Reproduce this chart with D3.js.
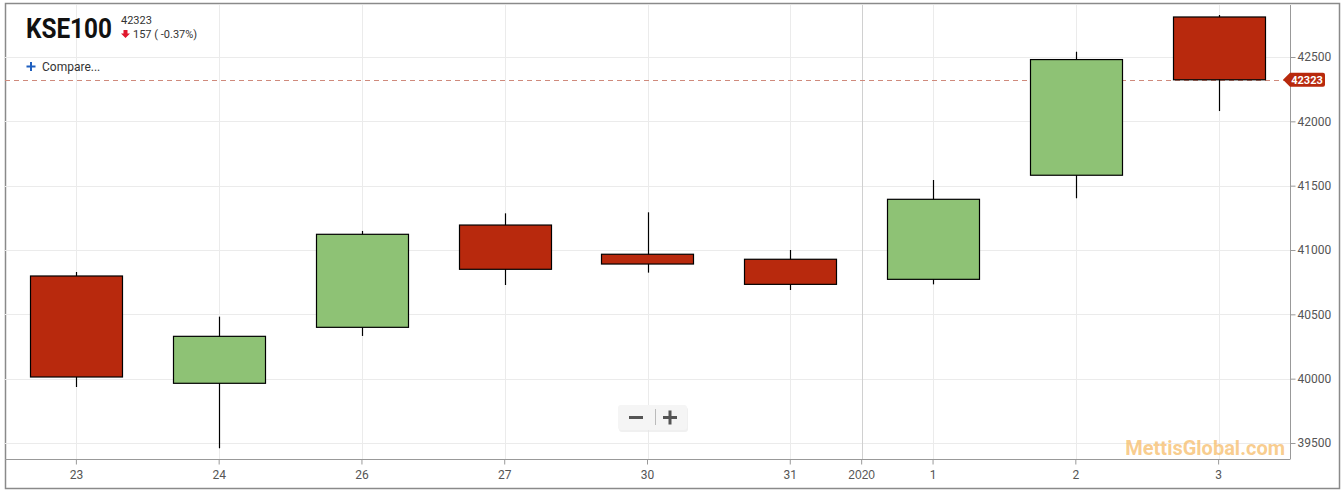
<!DOCTYPE html>
<html>
<head>
<meta charset="utf-8">
<script src="https://cdn.jsdelivr.net/npm/d3@7"></script>
<style>
  html, body { margin: 0; padding: 0; background: #fff; }
  svg { display: block; font-family: Roboto, "Noto Sans", Arial, sans-serif; }
</style>
</head>
<body>
<svg id="chart" width="1344" height="492"></svg>
<script>
// ---- Data ----
const categories = ["23", "24", "26", "27", "30", "31", "1", "2", "3"];
const opens  = [40798, 39964, 40399, 41194, 40967, 40928, 40772, 41581, 42811];
const highs  = [40829, 40482, 41148, 41285, 41293, 41000, 41544, 42541, 42826];
const lows   = [39935, 39459, 40332, 40728, 40824, 40689, 40733, 41402, 42080];
const closes = [40013, 40329, 41122, 40850, 40891, 40733, 41394, 42480, 42323];
const yTicks = [39500, 40000, 40500, 41000, 41500, 42000, 42500];
const yearLabel = "2020";
const yearAfter = "1";   // year separator sits between "31" and "1"
const symbol = "KSE100";
const lastPrice = 42323;
const change = -157;
const changePct = "-0.37%";

// ---- Layout ----
const svg = d3.select("#chart");
const plot = { left: 5, right: 1290, top: 5, bottom: 459 };

const x = d3.scaleBand()
  .domain(categories)
  .range([plot.left, plot.right])
  .paddingInner(0.355)
  .paddingOuter(0.355 / 2);

const y = d3.scaleLinear()
  .domain([39500, 42500])
  .range([443, 57]);

const cx = d => x(d) + x.bandwidth() / 2;
const idxYear = categories.indexOf(yearAfter);
const yearX = (cx(categories[idxYear - 1]) + cx(categories[idxYear])) / 2;

// outer frame
svg.append("rect")
  .attr("x", 5.5).attr("y", 3.5)
  .attr("width", 1334).attr("height", 485)
  .attr("fill", "none").attr("stroke", "#8a8a8a").attr("stroke-width", 1.5);

// grid
const grid = svg.append("g");
grid.selectAll("line.h").data(yTicks).join("line")
  .attr("x1", plot.left).attr("x2", plot.right)
  .attr("y1", d => Math.round(y(d)) + 0.5).attr("y2", d => Math.round(y(d)) + 0.5)
  .attr("stroke", "#ebebeb");
grid.selectAll("line.v").data(categories).join("line")
  .attr("x1", d => Math.round(cx(d)) + 0.5).attr("x2", d => Math.round(cx(d)) + 0.5)
  .attr("y1", plot.top).attr("y2", plot.bottom)
  .attr("stroke", "#ebebeb");
grid.append("line")
  .attr("x1", Math.round(yearX) + 0.5).attr("x2", Math.round(yearX) + 0.5)
  .attr("y1", plot.top).attr("y2", plot.bottom)
  .attr("stroke", "#d0d0d0");

// watermark
svg.append("text")
  .attr("x", 1285).attr("y", 455)
  .attr("text-anchor", "end")
  .attr("font-size", 20).attr("font-weight", 700)
  .attr("fill", "#f7c070").attr("fill-opacity", 0.8)
  .text("MettisGlobal.com");

// last price dashed line
svg.append("line")
  .attr("x1", plot.left).attr("x2", plot.right)
  .attr("y1", Math.round(y(lastPrice)) + 0.5).attr("y2", Math.round(y(lastPrice)) + 0.5)
  .attr("stroke", "#cf8a7c").attr("stroke-width", 1)
  .attr("stroke-dasharray", "5,4");

// candles
const data = categories.map((c, i) => ({ c, o: opens[i], h: highs[i], l: lows[i], cl: closes[i] }));
const candles = svg.append("g").selectAll("g").data(data).join("g");
candles.append("line")
  .attr("x1", d => Math.round(cx(d.c)) + 0.5).attr("x2", d => Math.round(cx(d.c)) + 0.5)
  .attr("y1", d => y(d.h)).attr("y2", d => y(d.l))
  .attr("stroke", "#000").attr("stroke-width", 1.2);
candles.append("rect")
  .attr("x", d => Math.round(x(d.c)) + 0.5)
  .attr("width", Math.round(x.bandwidth()))
  .attr("y", d => y(Math.max(d.o, d.cl)))
  .attr("height", d => Math.max(1, Math.abs(y(d.o) - y(d.cl))))
  .attr("fill", d => d.cl >= d.o ? "#8ec275" : "#b8290d")
  .attr("stroke", "#000").attr("stroke-width", 1.2);

// y axis
const yAxis = d3.axisRight(y).tickValues(yTicks).tickSize(5).tickPadding(2).tickFormat(d3.format("d"));
const gy = svg.append("g").attr("transform", `translate(${plot.right + 0.5},0)`).call(yAxis);
gy.select(".domain").remove();
gy.selectAll(".tick line").attr("stroke", "#999");
gy.selectAll("text").attr("fill", "#555").attr("font-size", 12).attr("font-family", "Roboto, Arial, sans-serif");
svg.append("line")
  .attr("x1", plot.right + 0.5).attr("x2", plot.right + 0.5)
  .attr("y1", plot.top).attr("y2", plot.bottom)
  .attr("stroke", "#999");

// x axis
const xAxis = d3.axisBottom(x).tickSize(5).tickPadding(6);
const gx = svg.append("g").attr("transform", `translate(0,${plot.bottom + 0.5})`).call(xAxis);
gx.select(".domain").remove();
gx.selectAll(".tick line").attr("stroke", "#999");
gx.selectAll("text").attr("fill", "#555").attr("font-size", 12).attr("font-family", "Roboto, Arial, sans-serif");
const yearTick = gx.append("g").attr("transform", `translate(${yearX},0)`);
yearTick.append("line").attr("y2", 5).attr("stroke", "#999");
yearTick.append("text").attr("y", 11).attr("dy", "0.71em").attr("text-anchor", "middle")
  .attr("fill", "#555").attr("font-size", 12).text(yearLabel);
svg.append("line")
  .attr("x1", plot.left).attr("x2", plot.right + 0.5)
  .attr("y1", plot.bottom + 0.5).attr("y2", plot.bottom + 0.5)
  .attr("stroke", "#999");

// last price label
const ly = y(lastPrice);
svg.append("path")
  .attr("d", `M1283,${ly} L1290,${ly - 7} L1323,${ly - 7} Q1325,${ly - 7} 1325,${ly - 5} L1325,${ly + 5} Q1325,${ly + 7} 1323,${ly + 7} L1290,${ly + 7} Z`)
  .attr("fill", "#b8290d");
svg.append("text")
  .attr("x", 1307).attr("y", ly + 4)
  .attr("text-anchor", "middle")
  .attr("font-size", 11).attr("font-weight", 700).attr("fill", "#fff")
  .text(d3.format("d")(lastPrice));

// header (title condensed horizontally to fit 86px)
const title = svg.append("text")
  .attr("x", 0).attr("y", 0)
  .attr("font-size", 28).attr("font-weight", 700).attr("fill", "#111")
  .text(symbol);
const natW = title.node().getComputedTextLength() || 98;
title.attr("transform", `translate(26,38) scale(${86 / natW},1)`);

svg.append("text")
  .attr("x", 121).attr("y", 24)
  .attr("font-size", 11).attr("fill", "#333")
  .text(d3.format("d")(lastPrice));
svg.append("path")
  .attr("d", "M123.5,30 L127.5,30 L127.5,33.5 L130,33.5 L125.5,38 L121,33.5 L123.5,33.5 Z")
  .attr("fill", "#e0182d");
svg.append("text")
  .attr("x", 133).attr("y", 38)
  .attr("font-size", 11).attr("fill", "#333")
  .text(`${Math.abs(change)} ( ${changePct})`);

// compare
svg.append("path")
  .attr("d", "M31,62 L31,71 M26.5,66.5 L35.5,66.5")
  .attr("stroke", "#1f5fbf").attr("stroke-width", 2);
svg.append("text")
  .attr("x", 42).attr("y", 71)
  .attr("font-size", 12).attr("fill", "#333")
  .text("Compare...");

// zoom control
const zc = svg.append("g");
zc.append("rect")
  .attr("x", 619).attr("y", 406).attr("width", 69).attr("height", 25).attr("rx", 3)
  .attr("fill", "#e6e6e6").attr("opacity", 0.6).attr("transform", "translate(0,1)");
zc.append("rect")
  .attr("x", 618).attr("y", 405).attr("width", 69).attr("height", 25).attr("rx", 3)
  .attr("fill", "#f5f5f5");
zc.append("line").attr("x1", 655.5).attr("x2", 655.5).attr("y1", 409).attr("y2", 425).attr("stroke", "#bbb");
zc.append("path")
  .attr("d", "M629,417.5 L643,417.5 M663,417.5 L677,417.5 M670,410.5 L670,424.5")
  .attr("stroke", "#555").attr("stroke-width", 3);
</script>
</body>
</html>
